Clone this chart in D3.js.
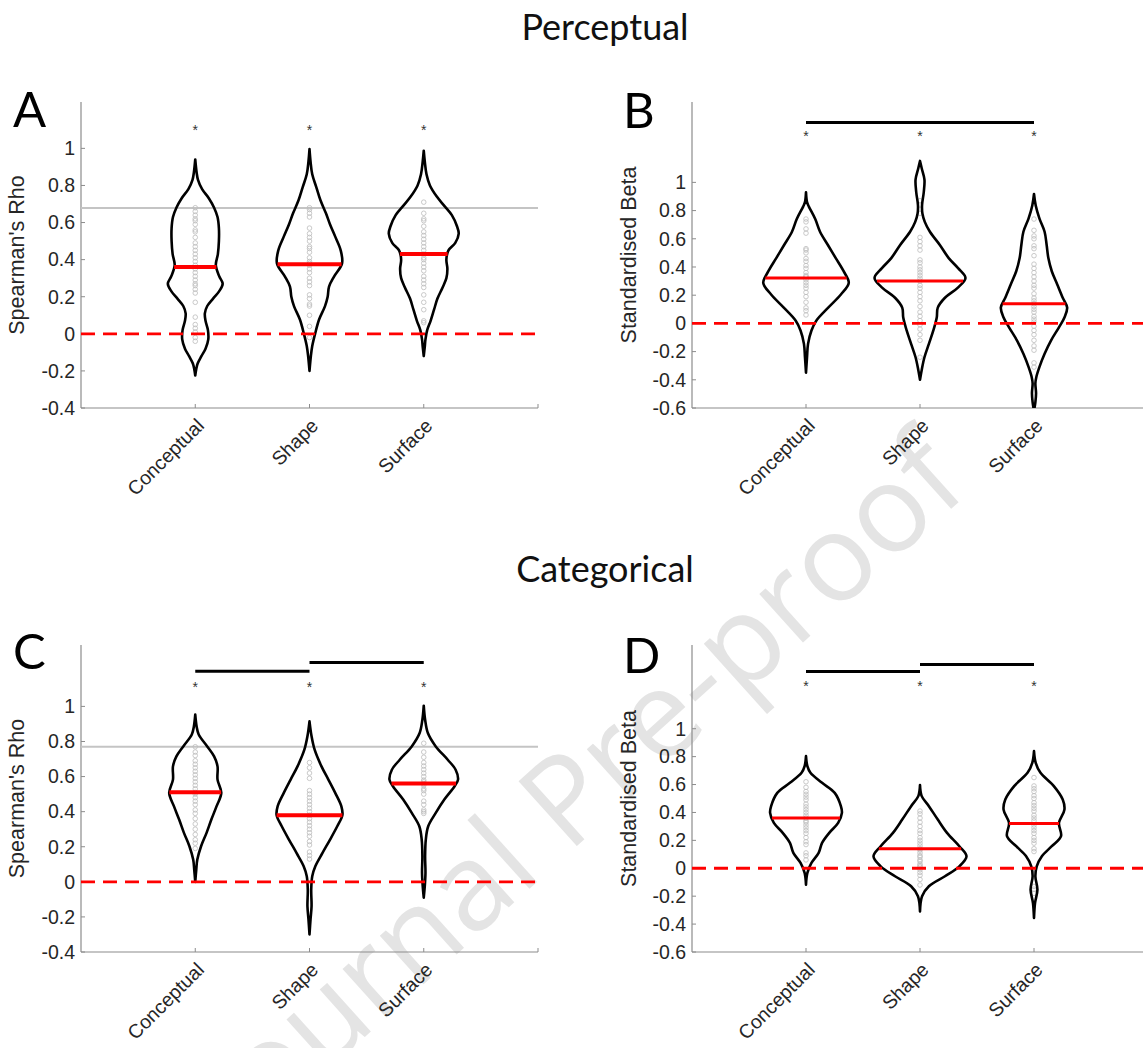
<!DOCTYPE html>
<html>
<head>
<meta charset="utf-8">
<script src="https://cdn.jsdelivr.net/npm/d3@7"></script>
<style>
  body { margin: 0; background: #fff; }
  svg { display: block; }
</style>
</head>
<body>
<div id="chart"></div>
<script>
// ---- data ----
const categories = ["Conceptual", "Shape", "Surface"];
const panelLetters = ["A", "B", "C", "D"];
const sectionTitles = ["Perceptual", "Categorical"];
const yLabels = ["Spearman's Rho", "Standardised Beta", "Spearman's Rho", "Standardised Beta"];
const yLimits = [[-0.4, 1.25], [-0.6, 1.57], [-0.4, 1.35], [-0.6, 1.6]];
const ticksRho = [-0.4, -0.2, 0, 0.2, 0.4, 0.6, 0.8, 1];
const ticksBeta = [-0.6, -0.4, -0.2, 0, 0.2, 0.4, 0.6, 0.8, 1];

const medians = [
    [0.36, 0.375, 0.43],
    [0.322, 0.30, 0.14],
    [0.51, 0.38, 0.56],
    [0.36, 0.14, 0.32]
];
const noiseCeiling = [0.678, null, 0.77, null];
const starLevel = [1.11, 1.34, 1.12, 1.32];
// [from category, to category, level]
const sigBars = [
    [],
    [[1, 3, 1.425]],
    [[1, 2, 1.20], [2, 3, 1.25]],
    [[1, 2, 1.41], [2, 3, 1.46]]
];

// violin outlines: [value, density]
const violinA = [
    [[0.94,0],[0.87,0.04],[0.83,0.08],[0.78,0.2],[0.73,0.4],[0.68,0.55],[0.63,0.65],[0.57,0.69],[0.50,0.69],[0.43,0.66],[0.37,0.6],[0.31,0.7],[0.27,0.8],[0.23,0.7],[0.19,0.52],[0.15,0.35],[0.11,0.28],[0.07,0.3],[0.02,0.37],[-0.03,0.38],[-0.08,0.3],[-0.12,0.18],[-0.16,0.07],[-0.19,0.03],[-0.225,0]],
    [[0.996,0],[0.93,0.03],[0.86,0.08],[0.79,0.2],[0.72,0.32],[0.65,0.48],[0.59,0.6],[0.52,0.76],[0.45,0.91],[0.38,0.95],[0.31,0.72],[0.255,0.57],[0.2,0.53],[0.148,0.45],[0.077,0.28],[0.005,0.17],[-0.066,0.08],[-0.12,0.04],[-0.2,0]],
    [[0.9875,0],[0.93,0.03],[0.86,0.08],[0.80,0.18],[0.74,0.38],[0.69,0.6],[0.64,0.82],[0.58,0.97],[0.54,1.02],[0.49,0.92],[0.45,0.72],[0.40,0.66],[0.35,0.69],[0.30,0.66],[0.25,0.55],[0.19,0.4],[0.13,0.3],[0.07,0.2],[0.02,0.1],[-0.03,0.05],[-0.07,0.03],[-0.12,0]]
];
const violinB = [
    [[0.93,0],[0.86,0.03],[0.83,0.08],[0.74,0.27],[0.65,0.41],[0.556,0.64],[0.463,0.87],[0.37,1.1],[0.287,1.25],[0.205,1.02],[0.112,0.65],[0.019,0.3],[-0.05,0.16],[-0.145,0.06],[-0.24,0.03],[-0.35,0]],
    [[1.152,0],[1.10,0.05],[1.02,0.13],[0.93,0.11],[0.84,0.06],[0.78,0.07],[0.72,0.14],[0.65,0.29],[0.556,0.58],[0.463,0.84],[0.39,1.12],[0.322,1.33],[0.252,1.1],[0.182,0.73],[0.112,0.52],[0.042,0.49],[-0.05,0.39],[-0.145,0.26],[-0.24,0.13],[-0.33,0.05],[-0.40,0]],
    [[0.918,0],[0.836,0.05],[0.743,0.16],[0.65,0.31],[0.556,0.37],[0.463,0.42],[0.37,0.52],[0.276,0.68],[0.182,0.84],[0.112,0.97],[0.042,0.89],[-0.028,0.73],[-0.12,0.5],[-0.215,0.31],[-0.308,0.16],[-0.378,0.07],[-0.425,0.04],[-0.495,0.06],[-0.56,0.04],[-0.62,0]]
];
const violinC = [
    [[0.953,0],[0.886,0.04],[0.84,0.1],[0.772,0.35],[0.715,0.55],[0.658,0.65],[0.583,0.65],[0.507,0.76],[0.43,0.62],[0.355,0.47],[0.279,0.33],[0.203,0.17],[0.127,0.06],[0.07,0.03],[0,0]],
    [[0.915,0],[0.83,0.06],[0.753,0.15],[0.658,0.35],[0.583,0.55],[0.507,0.75],[0.43,0.93],[0.38,0.96],[0.317,0.81],[0.241,0.6],[0.165,0.38],[0.089,0.17],[0.032,0.08],[-0.044,0.05],[-0.139,0.06],[-0.214,0.03],[-0.30,0]],
    [[1.004,0],[0.924,0.04],[0.848,0.12],[0.772,0.35],[0.696,0.7],[0.639,0.93],[0.583,1.0],[0.545,0.9],[0.469,0.6],[0.393,0.35],[0.317,0.13],[0.241,0.06],[0.146,0.04],[0.051,0.05],[-0.025,0.03],[-0.09,0]]
];
const violinD = [
    [[0.804,0],[0.732,0.04],[0.684,0.13],[0.612,0.47],[0.54,0.84],[0.445,1.02],[0.397,1.05],[0.325,0.94],[0.254,0.68],[0.182,0.47],[0.11,0.37],[0.038,0.16],[-0.033,0.04],[-0.117,0]],
    [[0.596,0],[0.517,0.05],[0.445,0.26],[0.349,0.52],[0.254,0.79],[0.158,1.15],[0.086,1.36],[0.014,1.15],[-0.057,0.73],[-0.129,0.26],[-0.2,0.06],[-0.309,0]],
    [[0.84,0],[0.756,0.05],[0.684,0.19],[0.589,0.58],[0.493,0.84],[0.421,0.89],[0.325,0.73],[0.23,0.79],[0.158,0.52],[0.086,0.23],[0.014,0.08],[-0.057,0.04],[-0.153,0.1],[-0.249,0.03],[-0.356,0]]
];

// individual participants (grey circles)
const pointsA = [
    [0.68,0.66,0.64,0.62,0.61,0.59,0.56,0.55,0.52,0.49,0.47,0.45,0.43,0.41,0.39,0.37,0.35,0.33,0.31,0.29,0.27,0.26,0.24,0.22,0.17,0.09,0.05,0.03,0.01,-0.02,-0.04],
    [0.68,0.67,0.65,0.63,0.57,0.54,0.52,0.50,0.47,0.46,0.44,0.41,0.39,0.38,0.37,0.35,0.33,0.30,0.28,0.26,0.21,0.19,0.16,0.15,0.10,0.04,-0.02],
    [0.71,0.65,0.62,0.61,0.58,0.55,0.53,0.51,0.49,0.47,0.45,0.43,0.41,0.40,0.38,0.36,0.34,0.31,0.29,0.27,0.25,0.21,0.17,0.13,0.07,0.06]
];
const pointsB = [
    [0.74,0.72,0.67,0.64,0.53,0.52,0.50,0.46,0.44,0.41,0.39,0.36,0.34,0.33,0.31,0.29,0.27,0.25,0.22,0.19,0.15,0.11,0.09,0.06],
    [0.87,0.84,0.78,0.61,0.58,0.55,0.52,0.45,0.43,0.40,0.38,0.36,0.34,0.32,0.30,0.27,0.25,0.22,0.19,0.16,0.12,0.08,0.05,0.02,-0.01,-0.04,-0.08,-0.12,-0.24],
    [0.74,0.66,0.62,0.60,0.55,0.53,0.48,0.42,0.39,0.36,0.33,0.30,0.27,0.25,0.21,0.18,0.16,0.14,0.12,0.10,0.08,0.05,0.03,0.01,-0.02,-0.05,-0.08,-0.12,-0.16,-0.19,-0.28,-0.31]
];
const pointsC = [
    [0.77,0.74,0.72,0.69,0.67,0.65,0.63,0.61,0.59,0.57,0.55,0.53,0.51,0.50,0.48,0.46,0.44,0.41,0.39,0.36,0.33,0.30,0.27,0.24,0.22,0.19],
    [0.68,0.65,0.62,0.59,0.52,0.50,0.48,0.46,0.44,0.42,0.40,0.38,0.36,0.34,0.32,0.30,0.28,0.26,0.23,0.21,0.17,0.15,0.13],
    [0.79,0.74,0.71,0.68,0.66,0.64,0.62,0.60,0.58,0.57,0.56,0.55,0.53,0.52,0.50,0.46,0.44,0.41,0.40,0.39]
];
const pointsD = [
    [0.62,0.58,0.55,0.53,0.51,0.49,0.46,0.44,0.42,0.40,0.38,0.36,0.34,0.33,0.31,0.29,0.27,0.25,0.22,0.19,0.17,0.11,0.09,0.06],
    [0.41,0.39,0.36,0.33,0.30,0.27,0.25,0.22,0.20,0.18,0.16,0.14,0.13,0.11,0.09,0.08,0.06,0.05,0.03,0.02,0.01,-0.01,-0.03,-0.05,-0.08,-0.12],
    [0.65,0.59,0.57,0.55,0.52,0.50,0.47,0.45,0.43,0.41,0.38,0.36,0.34,0.31,0.29,0.27,0.25,0.22,0.20,0.18,0.14,0.12,-0.13,-0.15,-0.18]
];

const violins = [violinA, violinB, violinC, violinD];
const points = [pointsA, pointsB, pointsC, pointsD];

// ---- layout ----
const width = 1143;
const height = 1048;
const tickFont = 'Arial, "Liberation Sans", sans-serif';
const titleFont = 'Lato, "Open Sans", sans-serif';
const axisColor = '#8c8c8c';
const textColor = '#262626';

const boxes = [
    { left: 81, right: 538, top: 102, bottom: 408, letterX: 13, letterY: 127, labelX: 24 },
    { left: 692, right: 1148, top: 102, bottom: 408, letterX: 623, letterY: 128, labelX: 636 },
    { left: 81, right: 538, top: 645, bottom: 952, letterX: 13, letterY: 669, labelX: 24 },
    { left: 692, right: 1148, top: 645, bottom: 952, letterX: 623, letterY: 673, labelX: 636 }
];

const svg = d3.select('#chart')
    .append('svg')
    .attr('width', width)
    .attr('height', height);

// watermark
svg.append('text')
    .attr('transform', 'translate(608, 818) rotate(-42)')
    .attr('text-anchor', 'middle')
    .attr('font-family', '"Open Sans", sans-serif')
    .attr('font-size', 122)
    .attr('fill', '#e4e4e4')
    .text('Journal Pre-proof');

// section titles
svg.append('text')
    .attr('x', 605).attr('y', 40)
    .attr('text-anchor', 'middle')
    .attr('font-family', titleFont)
    .attr('font-size', 36)
    .attr('fill', '#111')
    .text(sectionTitles[0]);

svg.append('text')
    .attr('x', 605).attr('y', 582)
    .attr('text-anchor', 'middle')
    .attr('font-family', titleFont)
    .attr('font-size', 36)
    .attr('fill', '#111')
    .text(sectionTitles[1]);

panelLetters.forEach((letter, p) => drawPanel(p));

function densityAt(profile, v) {
    for (let i = 0; i < profile.length - 1; i++) {
        const a = profile[i], b = profile[i + 1];
        if (v <= a[0] && v >= b[0]) {
            const t = (a[0] - v) / (a[0] - b[0]);
            return a[1] + t * (b[1] - a[1]);
        }
    }
    return 0;
}

function drawPanel(p) {
    const box = boxes[p];
    const g = svg.append('g');

    const x = d3.scaleLinear().domain([0, 4]).range([box.left, box.right]);
    const y = d3.scaleLinear().domain(yLimits[p]).range([box.bottom, box.top]);
    const step = x(1) - x(0);
    const w = d3.scaleLinear().domain([0, 1]).range([0, step * 0.3]);
    const ticks = yLimits[p][0] < -0.5 ? ticksBeta : ticksRho;

    const clipId = 'clip' + p;
    g.append('clipPath').attr('id', clipId)
        .append('rect')
        .attr('x', box.left).attr('y', box.top)
        .attr('width', box.right - box.left).attr('height', box.bottom - box.top);

    // panel letter
    g.append('text')
        .attr('x', box.letterX).attr('y', box.letterY)
        .attr('font-family', titleFont)
        .attr('font-size', 49)
        .attr('fill', '#000')
        .text(panelLetters[p]);

    // y label
    g.append('text')
        .attr('transform', `translate(${box.labelX}, ${(box.top + box.bottom) / 2}) rotate(-90)`)
        .attr('text-anchor', 'middle')
        .attr('font-family', tickFont)
        .attr('font-size', 21.5)
        .attr('fill', textColor)
        .text(yLabels[p]);

    // axes
    g.append('line')
        .attr('x1', box.left).attr('x2', box.left)
        .attr('y1', box.top).attr('y2', box.bottom)
        .attr('stroke', axisColor).attr('stroke-width', 1.2);
    g.append('line')
        .attr('x1', box.left).attr('x2', box.right)
        .attr('y1', box.bottom).attr('y2', box.bottom)
        .attr('stroke', axisColor).attr('stroke-width', 1.2);

    g.selectAll('.ytick')
        .data(ticks)
        .join('line')
        .attr('x1', box.left).attr('x2', box.left + 4)
        .attr('y1', d => y(d)).attr('y2', d => y(d))
        .attr('stroke', axisColor);

    g.selectAll('.ylab')
        .data(ticks)
        .join('text')
        .attr('x', box.left - 6)
        .attr('y', d => y(d))
        .attr('dy', '0.35em')
        .attr('text-anchor', 'end')
        .attr('font-family', tickFont)
        .attr('font-size', 19.5)
        .attr('fill', textColor)
        .text(d => String(+d.toFixed(1)));

    g.selectAll('.xtick')
        .data([1, 2, 3, 4])
        .join('line')
        .attr('x1', d => x(d)).attr('x2', d => x(d))
        .attr('y1', box.bottom).attr('y2', box.bottom - 4)
        .attr('stroke', axisColor);

    g.selectAll('.xlab')
        .data(categories)
        .join('text')
        .attr('transform', (d, i) => `translate(${x(i + 1) + 10}, ${box.bottom + 19}) rotate(-45)`)
        .attr('text-anchor', 'end')
        .attr('font-family', tickFont)
        .attr('font-size', 19.5)
        .attr('fill', textColor)
        .text(d => d);

    const plot = g.append('g').attr('clip-path', `url(#${clipId})`);

    // noise ceiling
    if (noiseCeiling[p] !== null) {
        plot.append('line')
            .attr('x1', box.left).attr('x2', box.right)
            .attr('y1', y(noiseCeiling[p])).attr('y2', y(noiseCeiling[p]))
            .attr('stroke', '#c4c4c4').attr('stroke-width', 2);
    }

    // participant points
    points[p].forEach((vals, i) => {
        plot.selectAll(null)
            .data(vals)
            .join('circle')
            .attr('cx', x(i + 1))
            .attr('cy', d => y(d))
            .attr('r', 2.3)
            .attr('fill', 'none')
            .attr('stroke', '#bdbdbd')
            .attr('stroke-width', 0.8);
    });

    // violins
    violins[p].forEach((profile, i) => {
        const cx = x(i + 1);
        const area = d3.area()
            .y(d => y(d[0]))
            .x0(d => cx - w(d[1]))
            .x1(d => cx + w(d[1]))
            .curve(d3.curveCatmullRom.alpha(0.5));
        plot.append('path')
            .attr('d', area(profile))
            .attr('fill', 'none')
            .attr('stroke', '#000')
            .attr('stroke-width', 2.6)
            .attr('stroke-linejoin', 'round');
    });

    // zero line
    plot.append('line')
        .attr('x1', box.left).attr('x2', box.right)
        .attr('y1', y(0)).attr('y2', y(0))
        .attr('stroke', '#ff0000').attr('stroke-width', 2.8)
        .attr('stroke-dasharray', '14,8');

    // medians
    medians[p].forEach((m, i) => {
        const cx = x(i + 1);
        const half = w(densityAt(violins[p][i], m));
        plot.append('line')
            .attr('x1', cx - half).attr('x2', cx + half)
            .attr('y1', y(m)).attr('y2', y(m))
            .attr('stroke', '#ff0000')
            .attr('stroke-width', p % 2 === 0 ? 4 : 3);
    });

    // stars
    g.selectAll('.star')
        .data(categories)
        .join('text')
        .attr('x', (d, i) => x(i + 1))
        .attr('y', y(starLevel[p]) + 7)
        .attr('text-anchor', 'middle')
        .attr('font-family', tickFont)
        .attr('font-size', 14)
        .attr('fill', '#333')
        .text('*');

    // significance bars
    g.selectAll('.sig')
        .data(sigBars[p])
        .join('line')
        .attr('x1', d => x(d[0])).attr('x2', d => x(d[1]))
        .attr('y1', d => y(d[2])).attr('y2', d => y(d[2]))
        .attr('stroke', '#000').attr('stroke-width', 3);
}
</script>
</body>
</html>
